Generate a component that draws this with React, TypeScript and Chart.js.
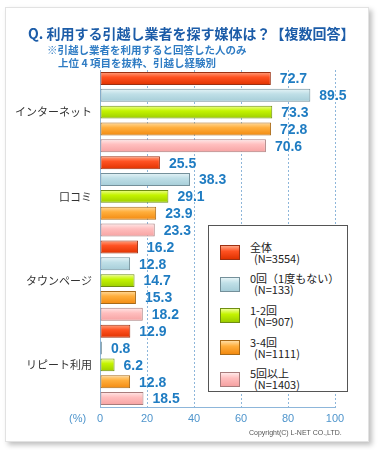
import React, { useEffect, useRef } from 'react';
import { Chart, registerables } from 'chart.js';

Chart.register(...registerables);

const categories = ['インターネット', '口コミ', 'タウンページ', 'リピート利用'];
const seriesNames = ['全体', '0回（1度もない）', '1-2回', '3-4回', '5回以上'];
const seriesN = ['(N=3554)', '(N=133)', '(N=907)', '(N=1111)', '(N=1403)'];
const allValues = [72.7, 25.5, 16.2, 12.9];
const zeroValues = [89.5, 38.3, 12.8, 0.8];
const oneTwoValues = [73.3, 29.1, 14.7, 6.2];
const threeFourValues = [72.8, 23.9, 15.3, 12.8];
const fivePlusValues = [70.6, 23.3, 18.2, 18.5];
const xMin = 0;
const xMax = 100;
const xStep = 20;

const seriesValues = [allValues, zeroValues, oneTwoValues, threeFourValues, fivePlusValues];

const seriesGradients = [
  ['#ffa584', '#ff5222', '#e03200'],
  ['#e6f4f7', '#bfdfe7', '#a6cdd8'],
  ['#f0ff96', '#c4f400', '#9ccc00'],
  ['#ffdca0', '#ffae3c', '#f28a10'],
  ['#ffe8e8', '#ffbebe', '#f6a2a2'],
];
const seriesBorders = ['#9c3012', '#74909a', '#6f8e12', '#a86a18', '#a87c7c'];

const axisBlue = '#8db6da';
const tickBlue = '#4f95cc';
const valueBlue = '#1f7cc2';
const cjk = '"Noto Sans CJK JP", "Noto Sans", sans-serif';

const gradientPlugin = {
  id: 'barGradient',
  beforeDatasetsDraw(chart: any) {
    const ctx = chart.ctx;
    chart.data.datasets.forEach((_ds: any, di: number) => {
      const meta = chart.getDatasetMeta(di);
      const stops = seriesGradients[di];
      meta.data.forEach((el: any) => {
        const { y, height } = el.getProps(['y', 'height'], true);
        const g = ctx.createLinearGradient(0, y - height / 2, 0, y + height / 2);
        g.addColorStop(0, stops[0]);
        g.addColorStop(0.4, stops[1]);
        g.addColorStop(1, stops[2]);
        el.options = Object.assign({}, el.options, { backgroundColor: g });
      });
    });
  },
};

const valueLabelPlugin = {
  id: 'valueLabels',
  afterDatasetsDraw(chart: any) {
    const ctx = chart.ctx;
    ctx.save();
    ctx.font = 'bold 14px "Liberation Sans", Arial, sans-serif';
    ctx.fillStyle = valueBlue;
    ctx.textAlign = 'left';
    ctx.textBaseline = 'middle';
    chart.data.datasets.forEach((ds: any, di: number) => {
      const meta = chart.getDatasetMeta(di);
      meta.data.forEach((el: any, i: number) => {
        const v = ds.data[i] as number;
        ctx.fillText(v.toFixed(1), el.x + 9, el.y + 1);
      });
    });
    ctx.restore();
  },
};

function Legend() {
  return (
    <div
      style={{
        position: 'absolute',
        left: 208,
        top: 225,
        width: 140,
        height: 167,
        boxSizing: 'border-box',
        border: '1px solid #555',
        background: '#fff',
        paddingTop: 11,
      }}
    >
      {seriesNames.map((name, i) => (
        <div key={name} style={{ display: 'flex', alignItems: 'center', height: 31.6, marginLeft: 11 }}>
          <div
            style={{
              width: 20,
              height: 15,
              boxSizing: 'border-box',
              border: `1px solid ${seriesBorders[i]}`,
              background: `linear-gradient(${seriesGradients[i][0]}, ${seriesGradients[i][1]} 40%, ${seriesGradients[i][2]})`,
              flex: 'none',
            }}
          />
          <div style={{ marginLeft: 10, fontFamily: cjk, fontSize: 11, lineHeight: '11px', color: '#222' }}>
            <div style={{ whiteSpace: 'nowrap' }}>{name}</div>
            <div style={{ whiteSpace: 'nowrap', paddingLeft: 4 }}>{seriesN[i]}</div>
          </div>
        </div>
      ))}
    </div>
  );
}

export default function App() {
  const canvasRef = useRef<HTMLCanvasElement | null>(null);

  useEffect(() => {
    if (!canvasRef.current) return;
    const chart = new Chart(canvasRef.current, {
      type: 'bar',
      data: {
        labels: categories,
        datasets: seriesValues.map((data, i) => ({
          label: seriesNames[i],
          data,
          backgroundColor: seriesGradients[i][1],
          borderColor: seriesBorders[i],
          borderWidth: 1,
          borderSkipped: false,
        })),
      },
      options: {
        indexAxis: 'y',
        responsive: false,
        animation: false,
        layout: { padding: { left: 0, right: 45, top: 70, bottom: 0 } },
        datasets: { bar: { categoryPercentage: 1, barPercentage: 0.77 } },
        plugins: {
          legend: { display: false },
          tooltip: { enabled: false },
          title: { display: false },
        },
        scales: {
          x: {
            min: xMin,
            max: xMax,
            ticks: {
              stepSize: xStep,
              color: tickBlue,
              font: { family: '"Liberation Sans", Arial, sans-serif', size: 11 },
              padding: 5,
            },
            grid: { color: axisBlue, drawTicks: false, lineWidth: 1 },
            border: { color: axisBlue, dash: [2, 2] },
            afterFit: (s: any) => {
              s.height = 43;
            },
          },
          y: {
            ticks: { color: '#333', font: { family: cjk, size: 11 }, padding: 8 },
            grid: { display: false, drawTicks: false },
            border: { color: axisBlue, display: true },
            afterFit: (s: any) => {
              s.width = 100;
            },
          },
        },
      } as any,
      plugins: [gradientPlugin, valueLabelPlugin],
    });
    return () => chart.destroy();
  }, []);

  return (
    <div style={{ position: 'absolute', left: 0, top: 0, width: 380, height: 450, background: '#fff' }}>
      <div
        style={{
          position: 'absolute',
          left: 5,
          top: 7,
          width: 364,
          height: 435,
          boxSizing: 'border-box',
          border: '1px solid #e2e2e2',
          boxShadow: '3px 3px 5px rgba(0,0,0,0.25)',
          background: '#fff',
        }}
      />
      <canvas ref={canvasRef} width={380} height={450} style={{ position: 'absolute', left: 0, top: 0 }} />
      <div
        style={{
          position: 'absolute',
          left: 28,
          top: 23,
          fontFamily: cjk,
          fontWeight: 'bold',
          fontSize: 14,
          lineHeight: '20px',
          color: '#1c5ca8',
          whiteSpace: 'nowrap',
        }}
      >
        Q. 利用する引越し業者を探す媒体は？【複数回答】
      </div>
      <div
        style={{
          position: 'absolute',
          left: 47,
          top: 43,
          fontFamily: cjk,
          fontWeight: 'bold',
          fontSize: 10.5,
          lineHeight: '14px',
          color: '#2f7cc4',
          whiteSpace: 'nowrap',
        }}
      >
        ※引越し業者を利用すると回答した人のみ
      </div>
      <div
        style={{
          position: 'absolute',
          left: 58,
          top: 56,
          fontFamily: cjk,
          fontWeight: 'bold',
          fontSize: 10.5,
          lineHeight: '14px',
          color: '#2f7cc4',
          whiteSpace: 'nowrap',
        }}
      >
        上位 4 項目を抜粋、引越し経験別
      </div>
      <Legend />
      <div
        style={{
          position: 'absolute',
          left: 69,
          top: 411,
          fontFamily: '"Liberation Sans", Arial, sans-serif',
          fontSize: 11,
          lineHeight: '14px',
          color: tickBlue,
        }}
      >
        (%)
      </div>
      <div
        style={{
          position: 'absolute',
          left: 249,
          top: 428,
          fontFamily: '"Liberation Sans", Arial, sans-serif',
          fontSize: 7,
          lineHeight: '10px',
          color: '#555',
          whiteSpace: 'nowrap',
        }}
      >
        Copyright(C) L-NET CO.,LTD.
      </div>
    </div>
  );
}
